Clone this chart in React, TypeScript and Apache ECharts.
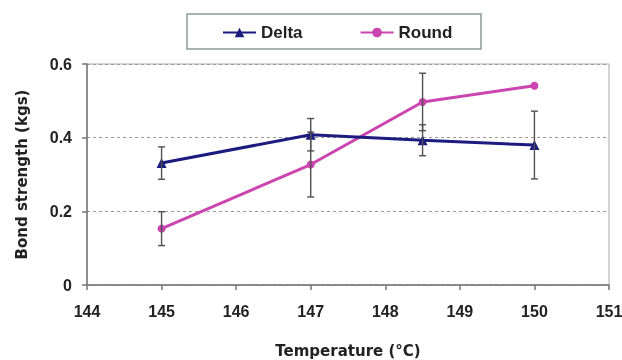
import React, { useEffect, useRef } from "react";
import * as echarts from "echarts";

const temps = [145, 147, 148.5, 150];
const deltaMean = [0.331, 0.408, 0.393, 0.38];
const deltaErr = [0.044, 0.044, 0.042, 0.092];
const roundMean = [0.153, 0.327, 0.497, 0.541];
const roundErr = [0.046, 0.088, 0.078, 0];
const xTicks = [144, 145, 146, 147, 148, 149, 150, 151];
const yTicks = [0, 0.2, 0.4, 0.6];

const DELTA = "#1c1c80";
const ROUND = "#cc44b0";
const FONT = "Liberation Sans, Arial, sans-serif";
const TITLE_FONT = "DejaVu Sans, sans-serif";

export default function App() {
  const ref = useRef<HTMLDivElement>(null);
  useEffect(() => {
    if (!ref.current) return;
    const chart = echarts.init(ref.current, undefined, { renderer: "svg" });
    const errData = (mean: number[], err: number[]) =>
      temps
        .map((t, i) => [t, mean[i] - err[i], mean[i] + err[i]])
        .filter((_, i) => err[i] > 0);
    const renderErr = (params: any, api: any) => {
      const x = api.value(0);
      const top = api.coord([x, api.value(2)]);
      const bot = api.coord([x, api.value(1)]);
      const w = 3.5;
      const style = { stroke: "#505050", lineWidth: 1.4 };
      return {
        type: "group",
        children: [
          { type: "line", shape: { x1: top[0], y1: top[1], x2: bot[0], y2: bot[1] }, style },
          { type: "line", shape: { x1: top[0] - w, y1: top[1], x2: top[0] + w, y2: top[1] }, style },
          { type: "line", shape: { x1: bot[0] - w, y1: bot[1], x2: bot[0] + w, y2: bot[1] }, style },
        ],
      };
    };
    chart.setOption({
      animation: false,
      graphic: [
        {
          type: "rect",
          shape: { x: 187, y: 14, width: 294, height: 35 },
          style: { fill: "#fff", stroke: "#8a9a9a", lineWidth: 1.5 },
          z: -1,
        },
      ],
      legend: {
        data: ["Delta", "Round"],
        left: 217,
        top: 19,
        itemGap: 57,
        itemWidth: 33,
        itemHeight: 12,
        textStyle: { fontFamily: FONT, fontSize: 17, fontWeight: "bold", color: "#222" },
      },
      grid: {
        left: 87,
        right: 13,
        top: 64,
        bottom: 75,
        show: true,
        borderColor: "#a8a8a8",
        borderWidth: 1,
        containLabel: false,
        outerBoundsMode: "none",
      },
      xAxis: {
        type: "value",
        min: xTicks[0],
        max: xTicks[xTicks.length - 1],
        interval: 1,
        name: "Temperature (°C)",
        nameLocation: "middle",
        nameGap: 58,
        nameTextStyle: { fontFamily: TITLE_FONT, fontSize: 15, fontWeight: "bold", color: "#222" },
        axisLine: { show: true, lineStyle: { color: "#777", width: 1.5 } },
        axisTick: { show: true, length: 5, lineStyle: { color: "#777", width: 1.5 } },
        axisLabel: { fontFamily: FONT, fontSize: 16, fontWeight: "bold", color: "#222", margin: 18 },
        splitLine: { show: false },
      },
      yAxis: {
        type: "value",
        min: yTicks[0],
        max: yTicks[yTicks.length - 1],
        interval: 0.2,
        name: "Bond strength (kgs)",
        nameLocation: "middle",
        nameGap: 58,
        nameTextStyle: { fontFamily: TITLE_FONT, fontSize: 15, fontWeight: "bold", color: "#222" },
        axisLine: { show: true, lineStyle: { color: "#777", width: 1.5 } },
        axisTick: { show: true, length: 5, lineStyle: { color: "#777", width: 1.5 } },
        axisLabel: { fontFamily: FONT, fontSize: 16, fontWeight: "bold", color: "#222", margin: 15 },
        splitLine: { show: true, lineStyle: { color: "#999", type: [3, 3], width: 1 } },
      },
      series: [
        {
          name: "Delta",
          type: "line",
          data: temps.map((t, i) => [t, deltaMean[i]]),
          symbol: "triangle",
          symbolSize: 10,
          lineStyle: { color: DELTA, width: 3 },
          itemStyle: { color: DELTA },
          z: 3,
        },
        {
          name: "Round",
          type: "line",
          data: temps.map((t, i) => [t, roundMean[i]]),
          symbol: "circle",
          symbolSize: 8,
          lineStyle: { color: ROUND, width: 3 },
          itemStyle: { color: ROUND },
          z: 2,
        },
        {
          name: "DeltaErr",
          type: "custom",
          data: errData(deltaMean, deltaErr),
          encode: { x: 0, y: [1, 2] },
          renderItem: renderErr,
          z: 5,
        },
        {
          name: "RoundErr",
          type: "custom",
          data: errData(roundMean, roundErr),
          encode: { x: 0, y: [1, 2] },
          renderItem: renderErr,
          z: 5,
        },
      ],
    });
    return () => chart.dispose();
  }, []);
  return <div ref={ref} style={{ position: "fixed", left: 0, top: 0, width: 622, height: 360 }} />;
}
